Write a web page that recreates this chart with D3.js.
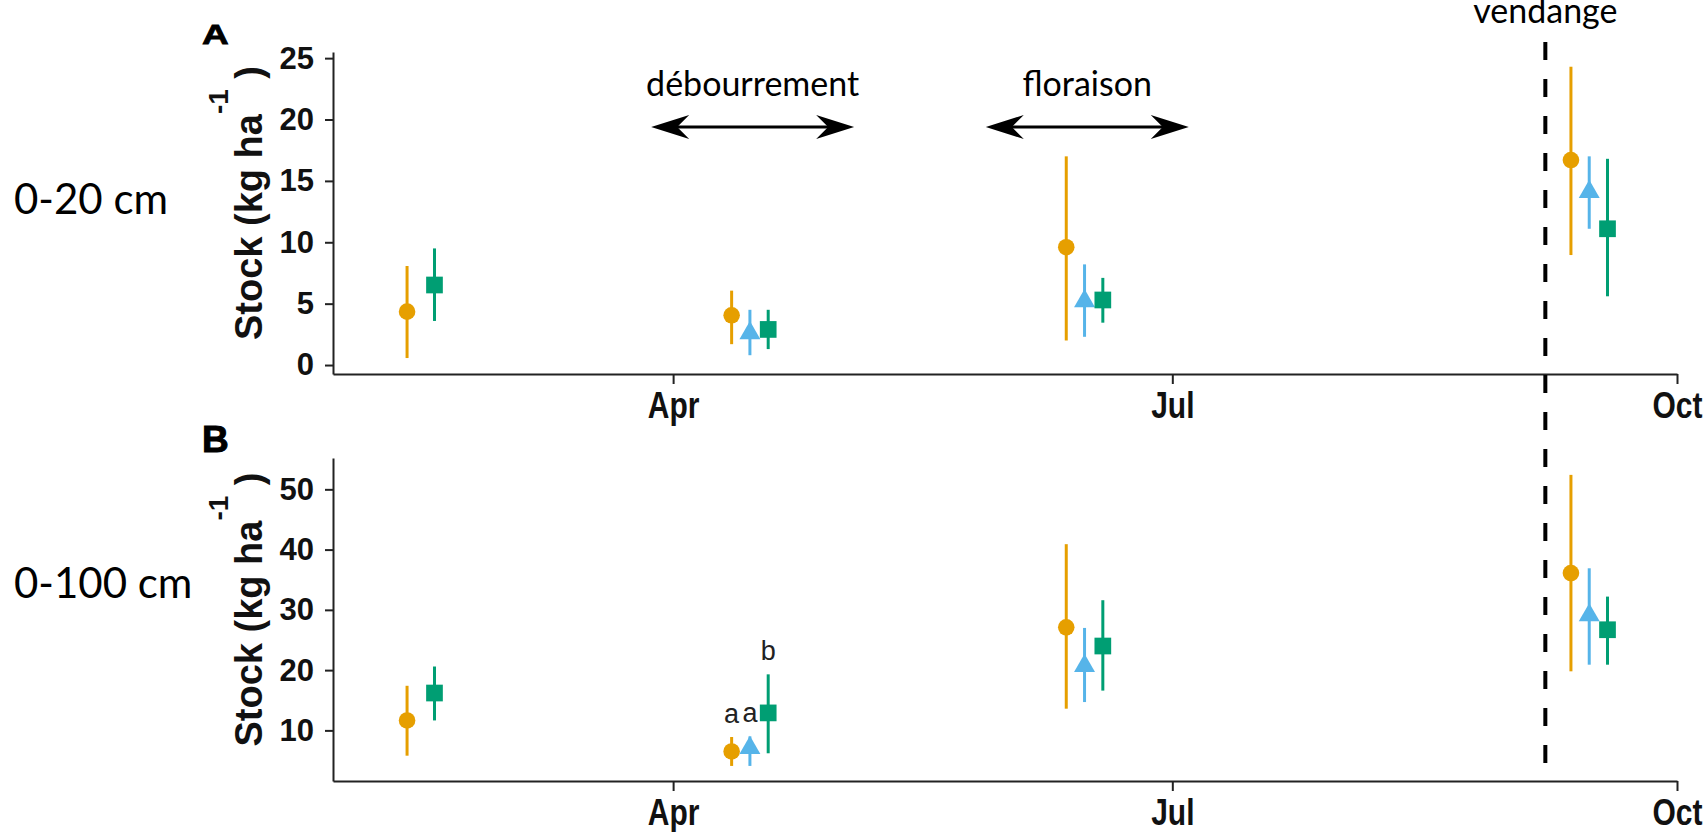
<!DOCTYPE html>
<html>
<head>
<meta charset="utf-8">
<script src="https://cdn.jsdelivr.net/npm/d3@7"></script>
<style>
  body { margin: 0; background: #fff; }
  svg { display: block; background: #fff; }
</style>
</head>
<body>
<svg id="chart" width="1705" height="832"></svg>
<script>
// sampling campaigns
var dates = ["2017-02-14", "2017-04-15", "2017-06-15", "2017-09-15"];
var xDomain = ["2017-01-29", "2017-10-01"];
var xTicks = ["2017-04-01", "2017-07-01", "2017-10-01"];
var vendange = "2017-09-07";

// phenology periods
var phaseLabels = ["débourrement", "floraison"];
var phaseStart = ["2017-03-28", "2017-05-28"];
var phaseEnd = ["2017-05-04", "2017-07-04"];

// A : 0-20 cm  (circle / triangle / square)
var a1Mean = [4.35, 4.05, 9.6, 16.7];
var a1Lo = [0.57, 1.7, 2.0, 8.96];
var a1Hi = [8.07, 6.06, 17.0, 24.3];
var a2Mean = [null, 2.6, 5.2, 14.1];
var a2Lo = [null, 0.8, 2.3, 11.1];
var a2Hi = [null, 4.5, 8.2, 17.0];
var a3Mean = [6.52, 2.9, 5.3, 11.1];
var a3Lo = [3.59, 1.3, 3.45, 5.6];
var a3Hi = [9.5, 4.5, 7.1, 16.8];

// B : 0-100 cm
var b1Mean = [11.65, 6.5, 27.1, 36.1];
var b1Lo = [5.8, 4.1, 13.6, 19.8];
var b1Hi = [17.4, 8.9, 40.9, 52.4];
var b2Mean = [null, 7.1, 20.7, 29.1];
var b2Lo = [null, 4.1, 14.7, 20.9];
var b2Hi = [null, 9.0, 27.0, 36.9];
var b3Mean = [16.2, 12.9, 24.0, 26.7];
var b3Lo = [11.65, 6.2, 16.6, 20.9];
var b3Hi = [20.6, 19.3, 31.6, 32.2];

// letters of the stat test (campaign 2, panel B)
var letterText = ["a", "a", "b"];
var letterDate = [1, 1, 1];

var yTicksA = [0, 5, 10, 15, 20, 25];
var yTicksB = [10, 20, 30, 40, 50];
var yDomainA = [-0.73, 25.5];
var yDomainB = [1.6, 55.2];

var colors = ['#E69F00', '#56B4E9', '#009E73'];
var shapes = [d3.symbolCircle, d3.symbolTriangle, d3.symbolSquare];
var sizes = [216, 190, 279];
var dodgeDays = 10;

var parse = d3.timeParse("%Y-%m-%d");
var svg = d3.select("#chart");
var tickFont = "'Liberation Sans', Arial, Helvetica, sans-serif";
var noteFont = "Lato, 'Open Sans', sans-serif";

var x = d3.scaleTime()
  .domain(xDomain.map(parse))
  .range([333, 1677]);

var panels = [
  { key: "A", depth: "0-20 cm", top: 52, bottom: 374, depthY: 214, keyY: 44, keyScale: 0.75,
    domain: yDomainA, ticks: yTicksA,
    series: [[a1Mean, a1Lo, a1Hi], [a2Mean, a2Lo, a2Hi], [a3Mean, a3Lo, a3Hi]] },
  { key: "B", depth: "0-100 cm", top: 458, bottom: 781, depthY: 598, keyY: 452, keyScale: 1,
    domain: yDomainB, ticks: yTicksB, letters: true,
    series: [[b1Mean, b1Lo, b1Hi], [b2Mean, b2Lo, b2Hi], [b3Mean, b3Lo, b3Hi]] }
];

// dodge like ggplot: shift inside campaign by present series
function dodged(p, si, di) {
  var present = p.series.map(function(s, k) { return s[0][di] != null ? k : -1; })
    .filter(function(k) { return k >= 0; });
  var n = present.length;
  var i = present.indexOf(si);
  var off = (i - (n - 1) / 2) * dodgeDays / n;
  return x(d3.timeHour.offset(parse(dates[di]), Math.round(off * 24)));
}

panels.forEach(function(p) {
  var y = d3.scaleLinear().domain(p.domain).range([p.bottom, p.top]);
  var g = svg.append("g");

  // y axis
  var ya = g.append("g")
    .attr("transform", "translate(333,0)")
    .call(d3.axisLeft(y).tickValues(p.ticks).tickSize(8).tickSizeOuter(0).tickPadding(11));
  ya.select(".domain").attr("stroke", "#222").attr("stroke-width", 2);
  ya.selectAll(".tick line").attr("stroke", "#222").attr("stroke-width", 2);
  ya.selectAll(".tick text")
    .style("font-family", tickFont).style("font-size", "31px").style("font-weight", "bold")
    .attr("fill", "#111");

  // x axis
  var xa = g.append("g")
    .attr("transform", "translate(0," + p.bottom + ")")
    .call(d3.axisBottom(x).tickValues(xTicks.map(parse)).tickFormat(d3.timeFormat("%b"))
      .tickSize(10).tickSizeOuter(0));
  xa.select(".domain").attr("stroke", "#222").attr("stroke-width", 2);
  xa.selectAll(".tick line").attr("stroke", "#222").attr("stroke-width", 2);
  // labels are a bit taller than wide in the original
  xa.selectAll(".tick text")
    .attr("y", 0).attr("dy", 0)
    .attr("transform", "translate(0,44) scale(1,1.2)")
    .style("font-family", tickFont).style("font-size", "30px").style("font-weight", "bold")
    .attr("fill", "#111");

  // axis title with superscript
  var lab = g.append("text")
    .attr("transform", "translate(262," + ((p.top + p.bottom) / 2 - 10) + ") rotate(-90)")
    .attr("text-anchor", "middle")
    .style("font-family", tickFont).style("font-size", "38px").style("font-weight", "bold")
    .style("white-space", "pre")
    .attr("fill", "#111");
  lab.append("tspan").text("Stock (kg ha");
  lab.append("tspan").attr("dy", -34).style("font-size", "28px").text("-1");
  lab.append("tspan").attr("dy", 34).text(" )");

  // panel key
  g.append("text")
    .attr("transform", "translate(202," + p.keyY + ") scale(1," + p.keyScale + ")")
    .style("font-family", tickFont).style("font-size", "37px").style("font-weight", "bold")
    .style("stroke", "#000").style("stroke-width", 1)
    .text(p.key);

  // depth label
  g.append("text").attr("x", 14).attr("y", p.depthY)
    .style("font-family", noteFont).style("font-size", "42px")
    .text(p.depth);

  // error bars + points
  p.series.forEach(function(s, si) {
    var pts = dates.map(function(d, di) {
      return { di: di, m: s[0][di], lo: s[1][di], hi: s[2][di] };
    }).filter(function(d) { return d.m != null; });

    g.selectAll(".bar" + si)
      .data(pts).enter()
      .append("line")
        .attr("x1", function(d) { return dodged(p, si, d.di); })
        .attr("x2", function(d) { return dodged(p, si, d.di); })
        .attr("y1", function(d) { return y(d.lo); })
        .attr("y2", function(d) { return y(d.hi); })
        .attr("stroke", colors[si])
        .attr("stroke-width", 3);

    g.selectAll(".pt" + si)
      .data(pts).enter()
      .append("path")
        .attr("d", d3.symbol().type(shapes[si]).size(sizes[si]))
        .attr("transform", function(d) {
          return "translate(" + dodged(p, si, d.di) + "," + y(d.m) + ")"; })
        .attr("fill", colors[si]);
  });

  if (p.letters) {
    letterText.forEach(function(t, si) {
      var di = letterDate[si];
      g.append("text")
        .attr("x", dodged(p, si, di))
        .attr("y", y(p.series[si][2][di]) - 14)
        .attr("text-anchor", "middle")
        .style("font-family", tickFont).style("font-size", "27px")
        .attr("fill", "#222")
        .text(t);
    });
  }
});

// vendange dashed line across both panels
var vx = x(parse(vendange));
svg.append("line")
  .attr("x1", vx).attr("x2", vx)
  .attr("y1", 42).attr("y2", 778)
  .attr("stroke", "#000")
  .attr("stroke-width", 4)
  .attr("stroke-dasharray", "18,19");
svg.append("text")
  .attr("x", vx).attr("y", 23)
  .attr("text-anchor", "middle")
  .style("font-family", noteFont).style("font-size", "34px")
  .text("vendange");

// phenology arrows
var head = "M0,0 L-38,-12 L-26,0 L-38,12 Z";
phaseLabels.forEach(function(lbl, i) {
  var x1 = x(parse(phaseStart[i])), x2 = x(parse(phaseEnd[i]));
  var ay = 127;
  svg.append("line")
    .attr("x1", x1 + 20).attr("x2", x2 - 20)
    .attr("y1", ay).attr("y2", ay)
    .attr("stroke", "#000").attr("stroke-width", 3);
  svg.append("path").attr("d", head)
    .attr("transform", "translate(" + x2 + "," + ay + ")");
  svg.append("path").attr("d", head)
    .attr("transform", "translate(" + x1 + "," + ay + ") rotate(180)");
  svg.append("text")
    .attr("x", (x1 + x2) / 2).attr("y", ay - 31)
    .attr("text-anchor", "middle")
    .style("font-family", noteFont).style("font-size", "34px")
    .text(lbl);
});
</script>
</body>
</html>
